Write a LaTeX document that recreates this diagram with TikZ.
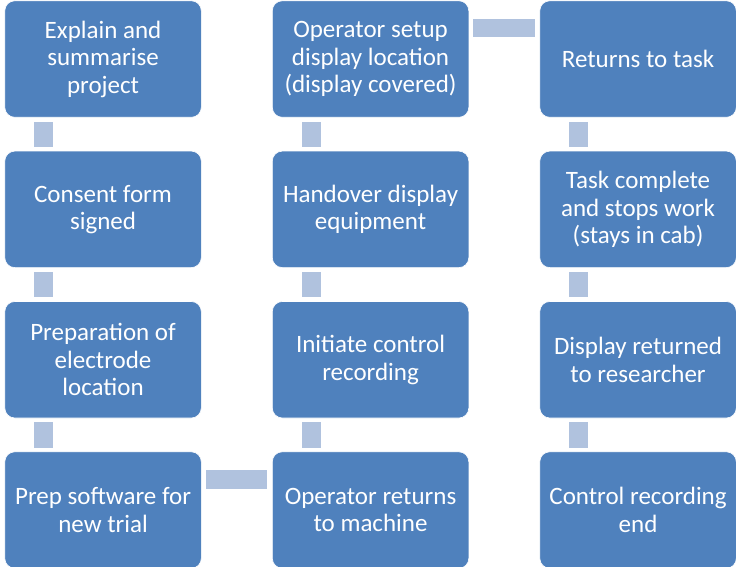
\documentclass[tikz,border=0pt]{standalone}
\usepackage{fontspec}
\setmainfont{Carlito}
\usetikzlibrary{calc}
\definecolor{boxblue}{HTML}{4F81BD}
\definecolor{connblue}{HTML}{B0C2DE}
\tikzset{
  stepbox/.style={rectangle, rounded corners=10pt, fill=boxblue, draw=white, line width=0.6pt,
    minimum width=196.5pt, minimum height=116.5pt, anchor=north west, inner sep=0pt,
    text=white, align=center, font=\fontsize{25}{27.5}\selectfont},
  conn/.style={fill=connblue}
}
\begin{document}
\begin{tikzpicture}[x=1pt,y=-1pt]
\useasboundingbox (0,0) rectangle (736,567);
% column 1
\node[stepbox] (a1) at (4.5,0.5) {Explain and\\summarise\\project};
\node[stepbox] (a2) at (4.5,150.8) {Consent form\\signed};
\node[stepbox] (a3) at (4.5,301.2) {Preparation of\\electrode\\location};
\node[stepbox] (a4) at (4.5,451.5) {Prep software for\\new trial};
% column 2
\node[stepbox] (b1) at (272,0.5) {Operator setup\\display location\\(display covered)};
\node[stepbox] (b2) at (272,150.8) {Handover display\\equipment};
\node[stepbox] (b3) at (272,301.2) {Initiate control\\recording};
\node[stepbox] (b4) at (272,451.5) {Operator returns\\to machine};
% column 3
\node[stepbox] (c1) at (539.5,0.5) {Returns to task};
\node[stepbox] (c2) at (539.5,150.8) {Task complete\\and stops work\\(stays in cab)};
\node[stepbox] (c3) at (539.5,301.2) {Display returned\\to researcher};
\node[stepbox] (c4) at (539.5,451.5) {Control recording\\end};
% vertical connectors
\foreach \u/\v in {a1/a2,a2/a3,a3/a4,b1/b2,b2/b3,b3/b4,c1/c2,c2/c3,c3/c4}{
  \fill[conn] ($(\u.south west)+(29.5,4)$) rectangle ($(\v.north west)+(48.5,-4)$);
}
% horizontal connectors
\fill[conn] ($(a4.north east)+(4,18.5)$) rectangle ($(b4.north west)+(-5,37.5)$);
\fill[conn] ($(b1.north east)+(4,18.5)$) rectangle ($(c1.north west)+(-4.5,36.5)$);
\end{tikzpicture}
\end{document}
